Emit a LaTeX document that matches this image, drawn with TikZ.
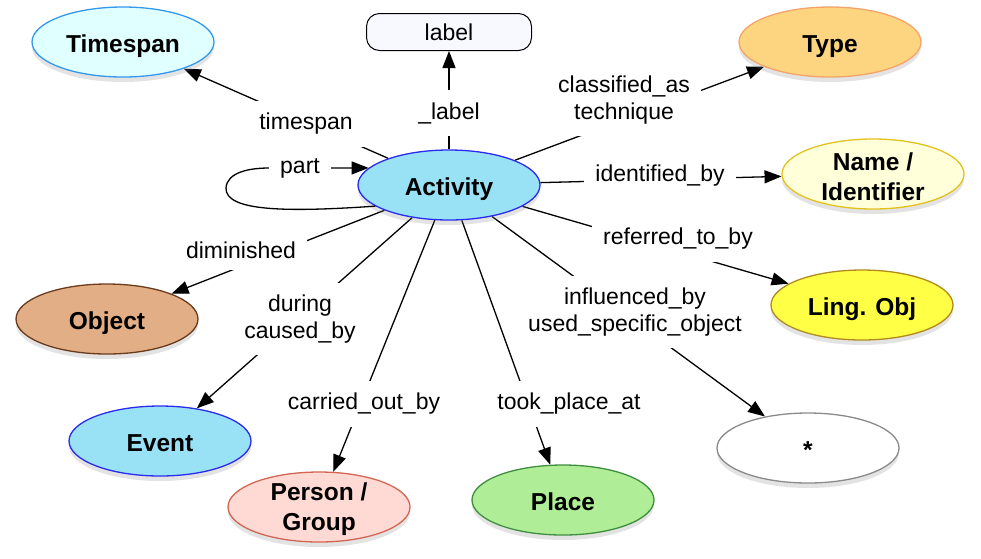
\documentclass[tikz,border=0pt]{standalone}
\usepackage{fontspec}
\setmainfont{Liberation Sans}
\usetikzlibrary{shapes.geometric,arrows.meta,shadows,backgrounds}
\definecolor{tsfill}{HTML}{E0FFFF}
\definecolor{tsdraw}{HTML}{3399EE}
\definecolor{actfill}{HTML}{99E1F5}
\definecolor{actdraw}{HTML}{2B2BEE}
\definecolor{typefill}{HTML}{FDD581}
\definecolor{typedraw}{HTML}{F4A468}
\definecolor{namefill}{HTML}{FFFFDA}
\definecolor{namedraw}{HTML}{E3C21C}
\definecolor{lingfill}{HTML}{FFFF45}
\definecolor{lingdraw}{HTML}{B08A1E}
\definecolor{anydraw}{HTML}{8A8A8A}
\definecolor{placefill}{HTML}{AFEE97}
\definecolor{placedraw}{HTML}{3E8E3E}
\definecolor{persfill}{HTML}{FFD9D3}
\definecolor{persdraw}{HTML}{D16752}
\definecolor{objfill}{HTML}{E2AE86}
\definecolor{objdraw}{HTML}{6A3A1B}
\definecolor{lblfill}{HTML}{F8F8FF}
\begin{document}
\begin{tikzpicture}[x=1pt,y=-1pt,
  ent/.style={ellipse, draw, line width=1.3pt, minimum width=182pt, minimum height=70pt,
    inner sep=0pt,
    drop shadow={shadow xshift=0pt, shadow yshift=-5pt, opacity=0.22}},
  etxt/.style={font=\fontsize{24.5}{30}\selectfont\bfseries, align=center, inner sep=0pt},
  et/.style={label={[etxt, text height=21pt, text depth=0pt]center:#1}},
  ettwo/.style={label={[etxt, yshift=-2.5pt]center:{#1}}},
  lbl/.style={fill=white, inner xsep=11pt, inner ysep=12pt, yshift=-2pt,
    font=\fontsize{23}{27.5}\selectfont, align=center},
  edge/.style={line width=1.3pt, black},
  arr/.style={edge, -{Triangle[length=17pt,width=13pt]}}]
\useasboundingbox (0,0) rectangle (981,558);

% entities
\node[ent, fill=tsfill, draw=tsdraw, et=Timespan] (ts) at (123,42) {};
\node[draw, rounded corners=13pt, fill=lblfill, line width=1pt, minimum width=165pt,
  minimum height=37pt, font=\fontsize{23}{27.5}\selectfont] (lab) at (449,32) {label};
\node[ent, fill=typefill, draw=typedraw, et=Type] (type) at (830,42) {};
\node[ent, fill=namefill, draw=namedraw, ettwo={Name /\\Identifier}] (name) at (873,174) {};
\node[ent, fill=actfill, draw=actdraw, et=Activity] (act) at (449,185) {};
\node[ent, fill=lingfill, draw=lingdraw, et={Ling. Obj}] (ling) at (862,305) {};
\node[ent, fill=white, draw=anydraw, et=*] (any) at (808,448) {};
\node[ent, fill=placefill, draw=placedraw, et=Place] (place) at (563,500) {};
\node[ent, fill=persfill, draw=persdraw, ettwo={Person /\\Group}] (pers) at (319,507) {};
\node[ent, fill=actfill, draw=actdraw, et=Event] (event) at (160,441) {};
\node[ent, fill=objfill, draw=objdraw, et=Object] (obj) at (107,319) {};

% edge labels
\node[lbl] (lts) at (306,122) {timespan};
\node[lbl] (llab) at (449,111) {\_label};
\node[lbl] (lcls) at (624,98) {classified\_as\\technique};
\node[lbl] (lid) at (660,174) {identified\_by};
\node[lbl] (lref) at (678,237) {referred\_to\_by};
\node[lbl] (linf) at (635,310) {influenced\_by\\used\_specific\_object};
\node[lbl] (ltook) at (569,402) {took\_place\_at};
\node[lbl] (lcar) at (364,402) {carried\_out\_by};
\node[lbl] (ldur) at (300,317) {during\\caused\_by};
\node[lbl] (ldim) at (241,248) {diminished};
\node[lbl] (lpart) at (300,166) {part};

% connectors
\begin{scope}[on background layer]
\draw[arr] (act) -- (ts);
\draw[arr] (act) -- (lab);
\draw[arr] (act) -- (type);
\draw[arr] (act) -- (name);
\draw[arr] (act) -- (ling);
\draw[arr] (act) -- (any);
\draw[arr] (act) -- (place);
\draw[arr] (act) -- (pers);
\draw[arr] (act) -- (event);
\draw[arr] (act) -- (obj);
\end{scope}
\draw[edge] (act.196) .. controls (290,212) and (225,212) .. (226,188)
  .. controls (227,172) and (250,168) .. (lpart.west);
\draw[arr] (lpart.east) -- (act.168);
\end{tikzpicture}
\end{document}
